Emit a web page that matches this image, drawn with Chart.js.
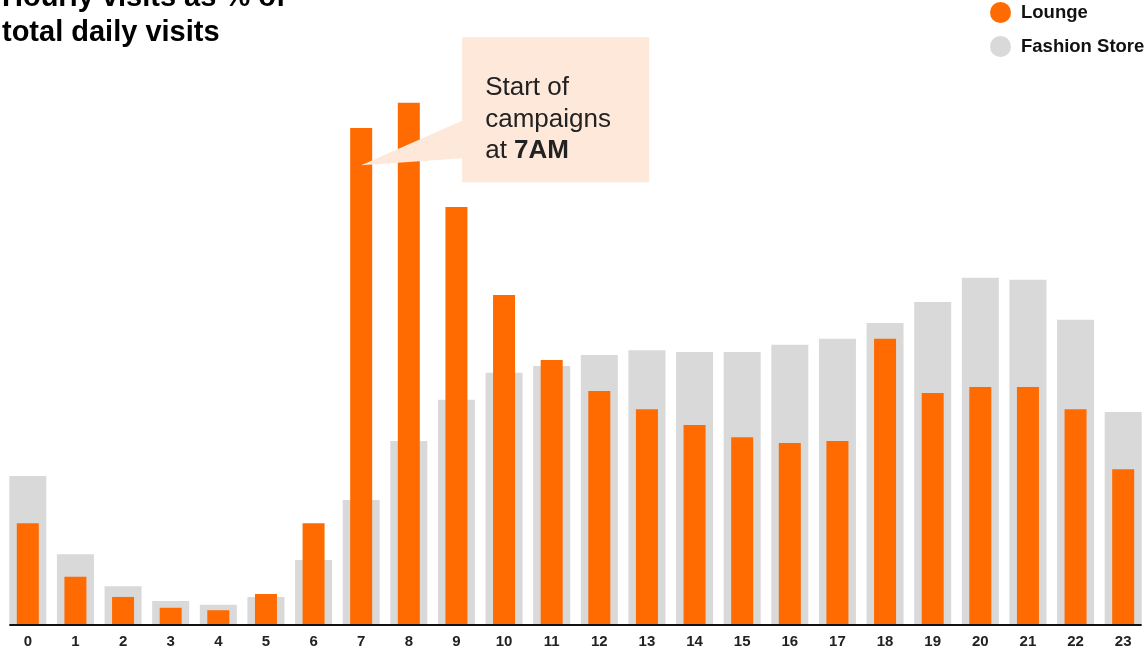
<!DOCTYPE html>
<html>
<head>
<meta charset="utf-8">
<script src="https://cdn.jsdelivr.net/npm/chart.js@4"></script>
<style>
  html, body { margin: 0; padding: 0; background: #fff; }
  #wrap { position: relative; width: 1147px; height: 649px; overflow: hidden; font-family: "Liberation Sans", Arial, sans-serif; }
  #title { position: absolute; left: 2px; top: -21px; font-size: 29px; line-height: 35px; font-weight: bold; color: #000; }
  .legend-item { position: absolute; left: 990px; height: 21px; display: flex; align-items: center; font-size: 18.5px; font-weight: bold; color: #111; white-space: nowrap; }
  .legend-item span.dot { width: 21px; height: 21px; border-radius: 50%; margin-right: 10px; display: inline-block; }
</style>
</head>
<body>
<div id="wrap">
  <canvas id="visits-chart"></canvas>
  <div id="title">Hourly visits as % of<br>total daily visits</div>
  <div class="legend-item" style="top:1.5px"><span class="dot" style="background:#ff6b00"></span>Lounge</div>
  <div class="legend-item" style="top:35.5px"><span class="dot" style="background:#d9d9d9"></span>Fashion Store</div>
</div>
<script>
// hour of day
let hours = ["0", "1", "2", "3", "4", "5", "6", "7", "8", "9", "10", "11",
             "12", "13", "14", "15", "16", "17", "18", "19", "20", "21", "22", "23"];

// share of the day's visits (%) in each hour
let lounge = [2.05, 0.96, 0.55, 0.33, 0.28, 0.61, 2.05, 10.09, 10.60, 8.48, 6.69, 5.37,
              4.74, 4.37, 4.05, 3.80, 3.68, 3.72, 5.80, 4.70, 4.82, 4.82, 4.37, 3.15];
let fashion_store = [3.01, 1.42, 0.77, 0.47, 0.39, 0.55, 1.30, 2.52, 3.72, 4.56, 5.11, 5.25,
                     5.47, 5.57, 5.53, 5.53, 5.68, 5.80, 6.12, 6.55, 7.04, 7.00, 6.19, 4.31];

// callout pointing at the 7AM bar
let note_hour = "7";
let note_value = 9.33;
let note_lines = [["Start of"], ["campaigns"], ["at ", "7AM"]];

const orange = '#ff6b00';
const grey = '#d9d9d9';
const font_family = '"Liberation Sans", Arial, sans-serif';

// black base line running from the first to the last grey bar
const baseLine = {
  id: 'baseLine',
  afterDatasetsDraw(chart) {
    const bars = chart.getDatasetMeta(1).data;
    const first = bars[0];
    const last = bars[bars.length - 1];
    const ctx = chart.ctx;
    ctx.save();
    ctx.fillStyle = '#111';
    ctx.fillRect(first.x - first.width / 2, chart.chartArea.bottom, (last.x + last.width / 2) - (first.x - first.width / 2), 2);
    ctx.restore();
  }
};

// speech-bubble note
const campaignNote = {
  id: 'campaignNote',
  afterDatasetsDraw(chart) {
    const ctx = chart.ctx;
    const tipX = chart.scales.x.getPixelForValue(hours.indexOf(note_hour));
    const tipY = chart.scales.y.getPixelForValue(note_value);
    const boxX = tipX + 101;
    const boxY = tipY - 128;
    const boxW = 187;
    const boxH = 145;

    ctx.save();
    ctx.fillStyle = '#fde8da';
    ctx.fillRect(boxX, boxY, boxW, boxH);
    ctx.beginPath();
    ctx.moveTo(tipX, tipY);
    ctx.lineTo(boxX + 1, tipY - 45);
    ctx.lineTo(boxX + 1, tipY - 7);
    ctx.closePath();
    ctx.fill();

    ctx.fillStyle = '#222';
    ctx.textBaseline = 'alphabetic';
    ctx.textAlign = 'left';
    note_lines.forEach((parts, i) => {
      let x = boxX + 23;
      const y = boxY + 58 + i * 31.5;
      parts.forEach((part, j) => {
        ctx.font = (j === 1 ? 'bold ' : '') + '26px ' + font_family;
        ctx.fillText(part, x, y);
        x += ctx.measureText(part).width;
      });
    });
    ctx.restore();
  }
};

const ctx = document.getElementById('visits-chart').getContext('2d');
let chart = new Chart(ctx, {
  type: 'bar',
  data: {
    labels: hours,
    datasets: [{
      label: 'Lounge',
      data: lounge,
      backgroundColor: orange,
      barPercentage: 0.462,
      categoryPercentage: 1,
      grouped: false
    }, {
      label: 'Fashion Store',
      data: fashion_store,
      backgroundColor: grey,
      barPercentage: 0.777,
      categoryPercentage: 1,
      grouped: false
    }]
  },
  options: {
    responsive: true,
    maintainAspectRatio: false,
    animation: false,
    layout: { padding: { left: 4, right: 0, top: 34, bottom: 0 } },
    plugins: {
      legend: { display: false },
      tooltip: { enabled: false },
      title: { display: false }
    },
    scales: {
      x: {
        grid: { display: false, drawTicks: false },
        border: { display: false },
        ticks: {
          color: '#222',
          padding: 9,
          maxRotation: 0,
          autoSkip: false,
          font: { family: font_family, size: 15, weight: 'bold' }
        },
        afterFit(scale) { scale.height = 25; }
      },
      y: { display: false, min: 0, max: 12 }
    }
  },
  plugins: [baseLine, campaignNote]
});
</script>
</body>
</html>
